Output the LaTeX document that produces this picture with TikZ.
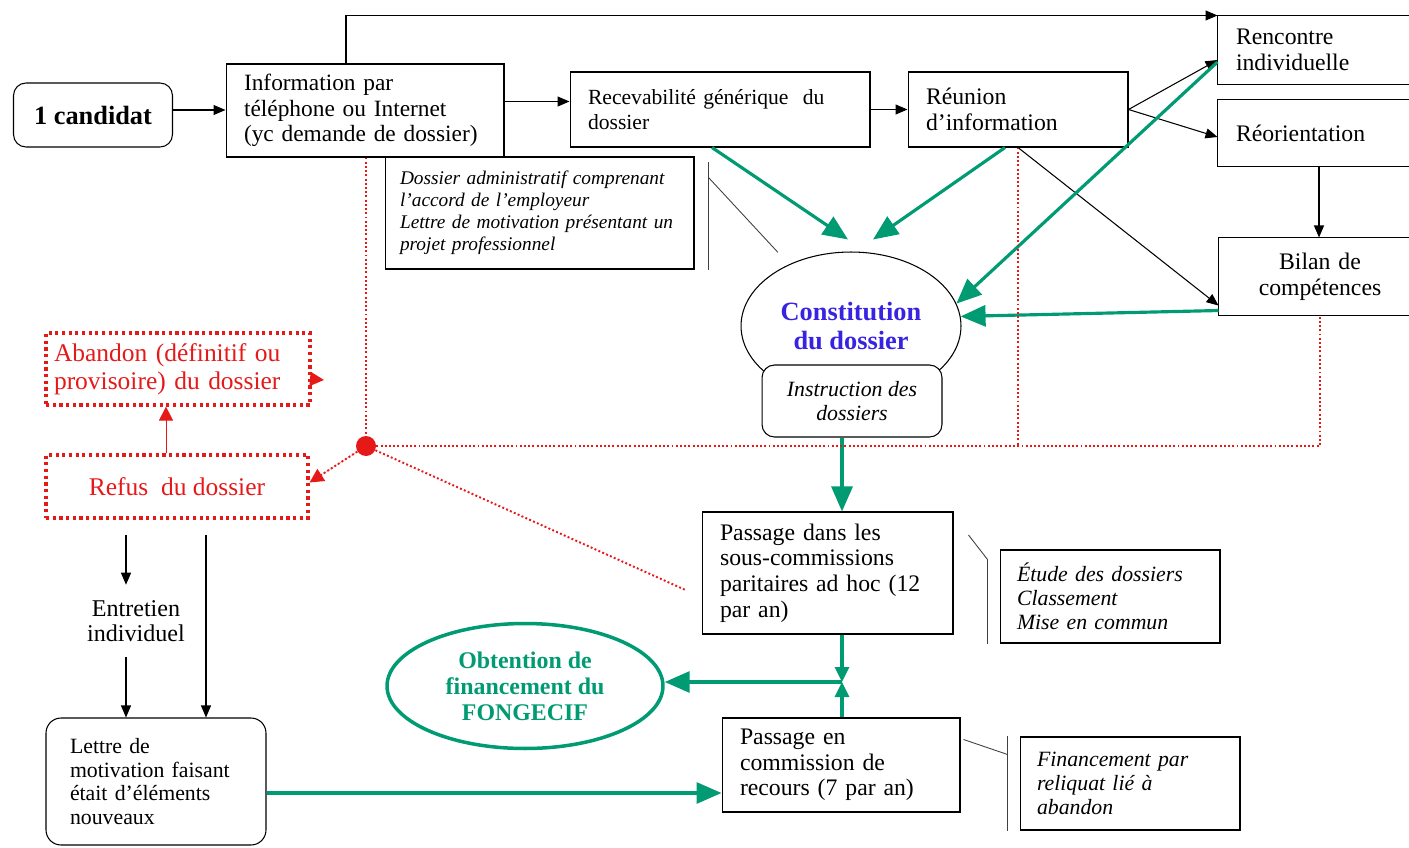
\documentclass[tikz,border=0pt]{standalone}
\usepackage{fontspec}
\setmainfont{Liberation Serif}
\usetikzlibrary{arrows.meta, shapes.geometric}
\definecolor{vertfong}{RGB}{0,155,115}
\definecolor{bleuconst}{RGB}{55,35,225}
\definecolor{rougeabandon}{RGB}{230,25,25}
\tikzset{
    boite/.style={draw, rectangle, line width=0.6pt, align=left, inner xsep=0.36cm,
        font=\fontsize{13.5}{14.6}\selectfont},
    ouverte/.style={boite, draw=none},
    note/.style={draw, rectangle, line width=0.6pt, align=left, inner xsep=0.34cm,
        font=\fontsize{12.4}{13.6}\selectfont\itshape},
    cadrerouge/.style={draw=rougeabandon, line width=1.8pt, dash pattern=on 1.8pt off 2pt,
        text=rougeabandon, align=left, font=\fontsize{14.5}{16}\selectfont},
    fleche/.style={-{Triangle[length=0.24cm,width=0.2cm]}, line width=0.6pt},
    trait/.style={line width=0.5pt, draw=black!75},
    vertfleche/.style={-{Triangle[length=0.5cm,width=0.42cm]}, draw=vertfong, fill=vertfong, line width=1.8pt},
    vertpetite/.style={-{Triangle[length=0.3cm,width=0.28cm]}, draw=vertfong, fill=vertfong, line width=1.8pt},
    rougeligne/.style={draw=rougeabandon, line width=1.1pt, dash pattern=on 1.1pt off 1.3pt},
    rougetete/.style={-{Triangle[length=0.28cm,width=0.28cm]}, fill=rougeabandon}
}
\begin{document}
\begin{tikzpicture}[x=0.02cm, y=-0.02cm]
    \useasboundingbox (0,0) rectangle (1409,848);
    \clip (0,0) rectangle (1409,848);
    \node[boite, rounded corners=0.25cm, align=center, minimum width=3.18cm, minimum height=1.28cm,
        font=\fontsize{15}{17}\selectfont\bfseries] (candidat) at (93,115) {1 candidat};
    \node[boite, text width=4.84cm, minimum height=1.86cm, font=\fontsize{13.3}{14.4}\selectfont] (info) at (365,110.5)
        {Information par\\ téléphone ou Internet\\ (yc demande de dossier)};
    \node[boite, text width=5.28cm, minimum height=1.5cm, font=\fontsize{12.3}{14.4}\selectfont] (recev) at (720,109.5)
        {Recevabilité générique\ \ du\\ dossier};
    \node[boite, text width=3.68cm, minimum height=1.5cm] (reunion) at (1018,109.5)
        {Réunion\\ d’information};
    \node[ouverte, text width=3.32cm, minimum height=1.36cm] (rencontre) at (1319,50)
        {Rencontre\\ individuelle};
    \node[ouverte, text width=3.32cm, minimum height=1.32cm] (reorient) at (1319,133) {Réorientation};
    \node[ouverte, align=center, text width=3.32cm, minimum height=1.54cm] (bilan) at (1320,276.5)
        {Bilan de\\ compétences};
    \node[note, font=\fontsize{11}{12.5}\selectfont\itshape, text width=5.58cm, inner xsep=0.3cm, minimum height=2.24cm]
        (dossier) at (539.5,213) {Dossier administratif comprenant\\ l’accord de l’employeur\\
        Lettre de motivation présentant un\\ projet professionnel};
    \node[ellipse, draw, line width=0.6pt, minimum width=4.4cm, minimum height=2.96cm, inner sep=0pt,
        text=bleuconst, align=center, font=\fontsize{15}{16.8}\selectfont\bfseries]
        (constit) at (851,326) {Constitution\\ du dossier};
    \node[boite, rounded corners=0.25cm, fill=white, align=center, minimum width=3.6cm, minimum height=1.44cm,
        font=\fontsize{12.4}{13.6}\selectfont\itshape] (instr) at (852,401) {Instruction des\\ dossiers};
    \node[cadrerouge, text width=4.96cm, inner xsep=0.16cm, minimum height=1.44cm] (abandon) at (178,369)
        {Abandon (définitif ou\\ provisoire) du dossier};
    \node[cadrerouge, align=center, minimum width=5.24cm, minimum height=1.26cm] (refus) at (177,486.5)
        {Refus\ \ du dossier};
    \node[align=center, inner ysep=0.3cm, font=\fontsize{13.7}{14.6}\selectfont] (entretien) at (136,621)
        {Entretien\\ individuel};
    \node[boite, rounded corners=0.3cm, text width=3.44cm, inner xsep=0.48cm, minimum height=2.54cm,
        font=\fontsize{12.4}{13.6}\selectfont] (lettre) at (156,781.5)
        {Lettre de\\ motivation faisant\\ était d’éléments\\ nouveaux};
    \node[boite, text width=4.3cm, minimum height=2.44cm] (passage) at (827.5,573)
        {Passage dans les\\ sous-commissions\\ paritaires ad hoc (12\\ par an)};
    \node[note, text width=3.72cm, minimum height=1.86cm] (etude) at (1110,596.5)
        {Étude des dossiers\\ Classement\\ Mise en commun};
    \node[ellipse, draw=vertfong, line width=2pt, minimum width=5.52cm, minimum height=2.5cm, inner sep=0pt,
        text=vertfong, align=center, font=\fontsize{13.6}{14.7}\selectfont\bfseries]
        (obtention) at (525,686) {Obtention de\\ financement du\\ FONGECIF};
    \node[boite, text width=4.04cm, minimum height=1.88cm] (commission) at (841,765)
        {Passage en\\ commission de\\ recours (7 par an)};
    \node[note, text width=3.72cm, minimum height=1.86cm] (financement) at (1130,783.5)
        {Financement par\\ reliquat lié à\\ abandon};
    \node[circle, fill=rougeabandon, minimum size=0.4cm, inner sep=0pt] (pointrouge) at (366,446) {};
    \coordinate (jonction) at (842,682);
    \coordinate (abandonfin) at (324,380);

    % cadres coupes au bord droit
    \foreach \cadre in {rencontre, reorient, bilan}
        \draw[line width=0.6pt] ([xshift=1cm]\cadre.north east) -- (\cadre.north west)
            -- (\cadre.south west) -- ([xshift=1cm]\cadre.south east);

    % parcours du candidat
    \draw[fleche] ([yshift=0.1cm]candidat.east) -- ([yshift=0.1cm]candidat.east -| info.west);
    \draw[fleche] ([yshift=0.18cm]info.east) -- ([yshift=0.18cm]info.east -| recev.west);
    \draw[fleche] (recev.east) -- (recev.east -| reunion.west);
    \draw[fleche] ([xshift=-0.38cm]info.north) |- (rencontre.north west);
    \draw[fleche] (reunion.east) -- ([yshift=-0.2cm]rencontre.west);
    \draw[fleche] (reunion.east) -- ([yshift=-0.08cm]reorient.west);
    \draw[fleche] (reorient.south) -- (reorient.south |- bilan.north);
    \draw[fleche] (reunion.south) -- ([yshift=0.2cm]bilan.south west);

    \draw[vertfleche] ([xshift=-0.16cm]recev.south) -- ([xshift=-0.06cm,yshift=0.24cm]constit.north);
    \draw[vertfleche] ([xshift=-0.26cm]reunion.south) -- ([xshift=0.44cm,yshift=0.24cm]constit.north);
    \draw[vertfleche] ([yshift=-0.24cm]rencontre.west) -- (constit.12);
    \draw[vertfleche] ([yshift=0.1cm]bilan.south west) -- (constit.5);
    \draw[vertfleche] ([xshift=-0.2cm]instr.south) -- ([xshift=-0.2cm]instr.south |- passage.north);
    \draw[vertpetite] (passage.south -| jonction) -- (jonction);
    \draw[vertpetite] (commission.north -| jonction) -- (jonction);
    \draw[vertfleche] (jonction) -- (jonction -| obtention.east);
    \draw[vertfleche] ([yshift=-0.23cm]lettre.east) -- ([yshift=-0.23cm]lettre.east -| commission.west);

    % refus et abandon
    \draw[rougeligne] (info.south -| pointrouge) -- (pointrouge);
    \draw[rougeligne] (pointrouge) -| (bilan.south);
    \draw[rougeligne] (reunion.south) -- (reunion.south |- pointrouge);
    \draw[rougeligne] (pointrouge) -- ([xshift=-0.32cm,yshift=-0.34cm]passage.west);
    \draw[rougeligne, rougetete] (pointrouge) -- ([yshift=0.08cm]refus.east);
    \draw[rougeligne, rougetete] ([yshift=-0.2cm]abandon.east) -- (abandonfin);
    \draw[draw=rougeabandon, line width=0.4pt, rougetete] ([xshift=-0.22cm]refus.north)
        -- ([xshift=-0.22cm]refus.north |- abandon.south);
    \draw[fleche] ([xshift=-1.02cm,yshift=-0.3cm]refus.south) -- ([xshift=-1.02cm]refus.south |- entretien.north);
    \draw[fleche] ([xshift=-0.2cm]entretien.south) -- ([xshift=-0.2cm]entretien.south |- lettre.north);
    \draw[fleche] ([xshift=0.58cm,yshift=-0.3cm]refus.south) -- ([xshift=0.58cm]refus.south |- lettre.north);

    \draw[trait] ([xshift=0.28cm,yshift=-0.12cm]dossier.north east) -- ([xshift=0.28cm]dossier.south east);
    \draw[trait] ([xshift=0.28cm,yshift=-0.42cm]dossier.north east) -- ([xshift=0.1cm,yshift=0.42cm]constit.north west);
    \draw[trait] ([xshift=-0.24cm,yshift=-0.2cm]etude.north west) -- ([xshift=-0.24cm]etude.south west);
    \draw[trait] ([xshift=0.3cm,yshift=0.76cm]passage.east) -- ([xshift=-0.24cm,yshift=-0.2cm]etude.north west);
    \draw[trait] ([xshift=-0.24cm]financement.north west) -- ([xshift=-0.24cm]financement.south west);
    \draw[trait] ([xshift=0.06cm,yshift=-0.44cm]commission.north east) -- ([xshift=-0.24cm,yshift=-0.36cm]financement.north west);
\end{tikzpicture}
\end{document}
